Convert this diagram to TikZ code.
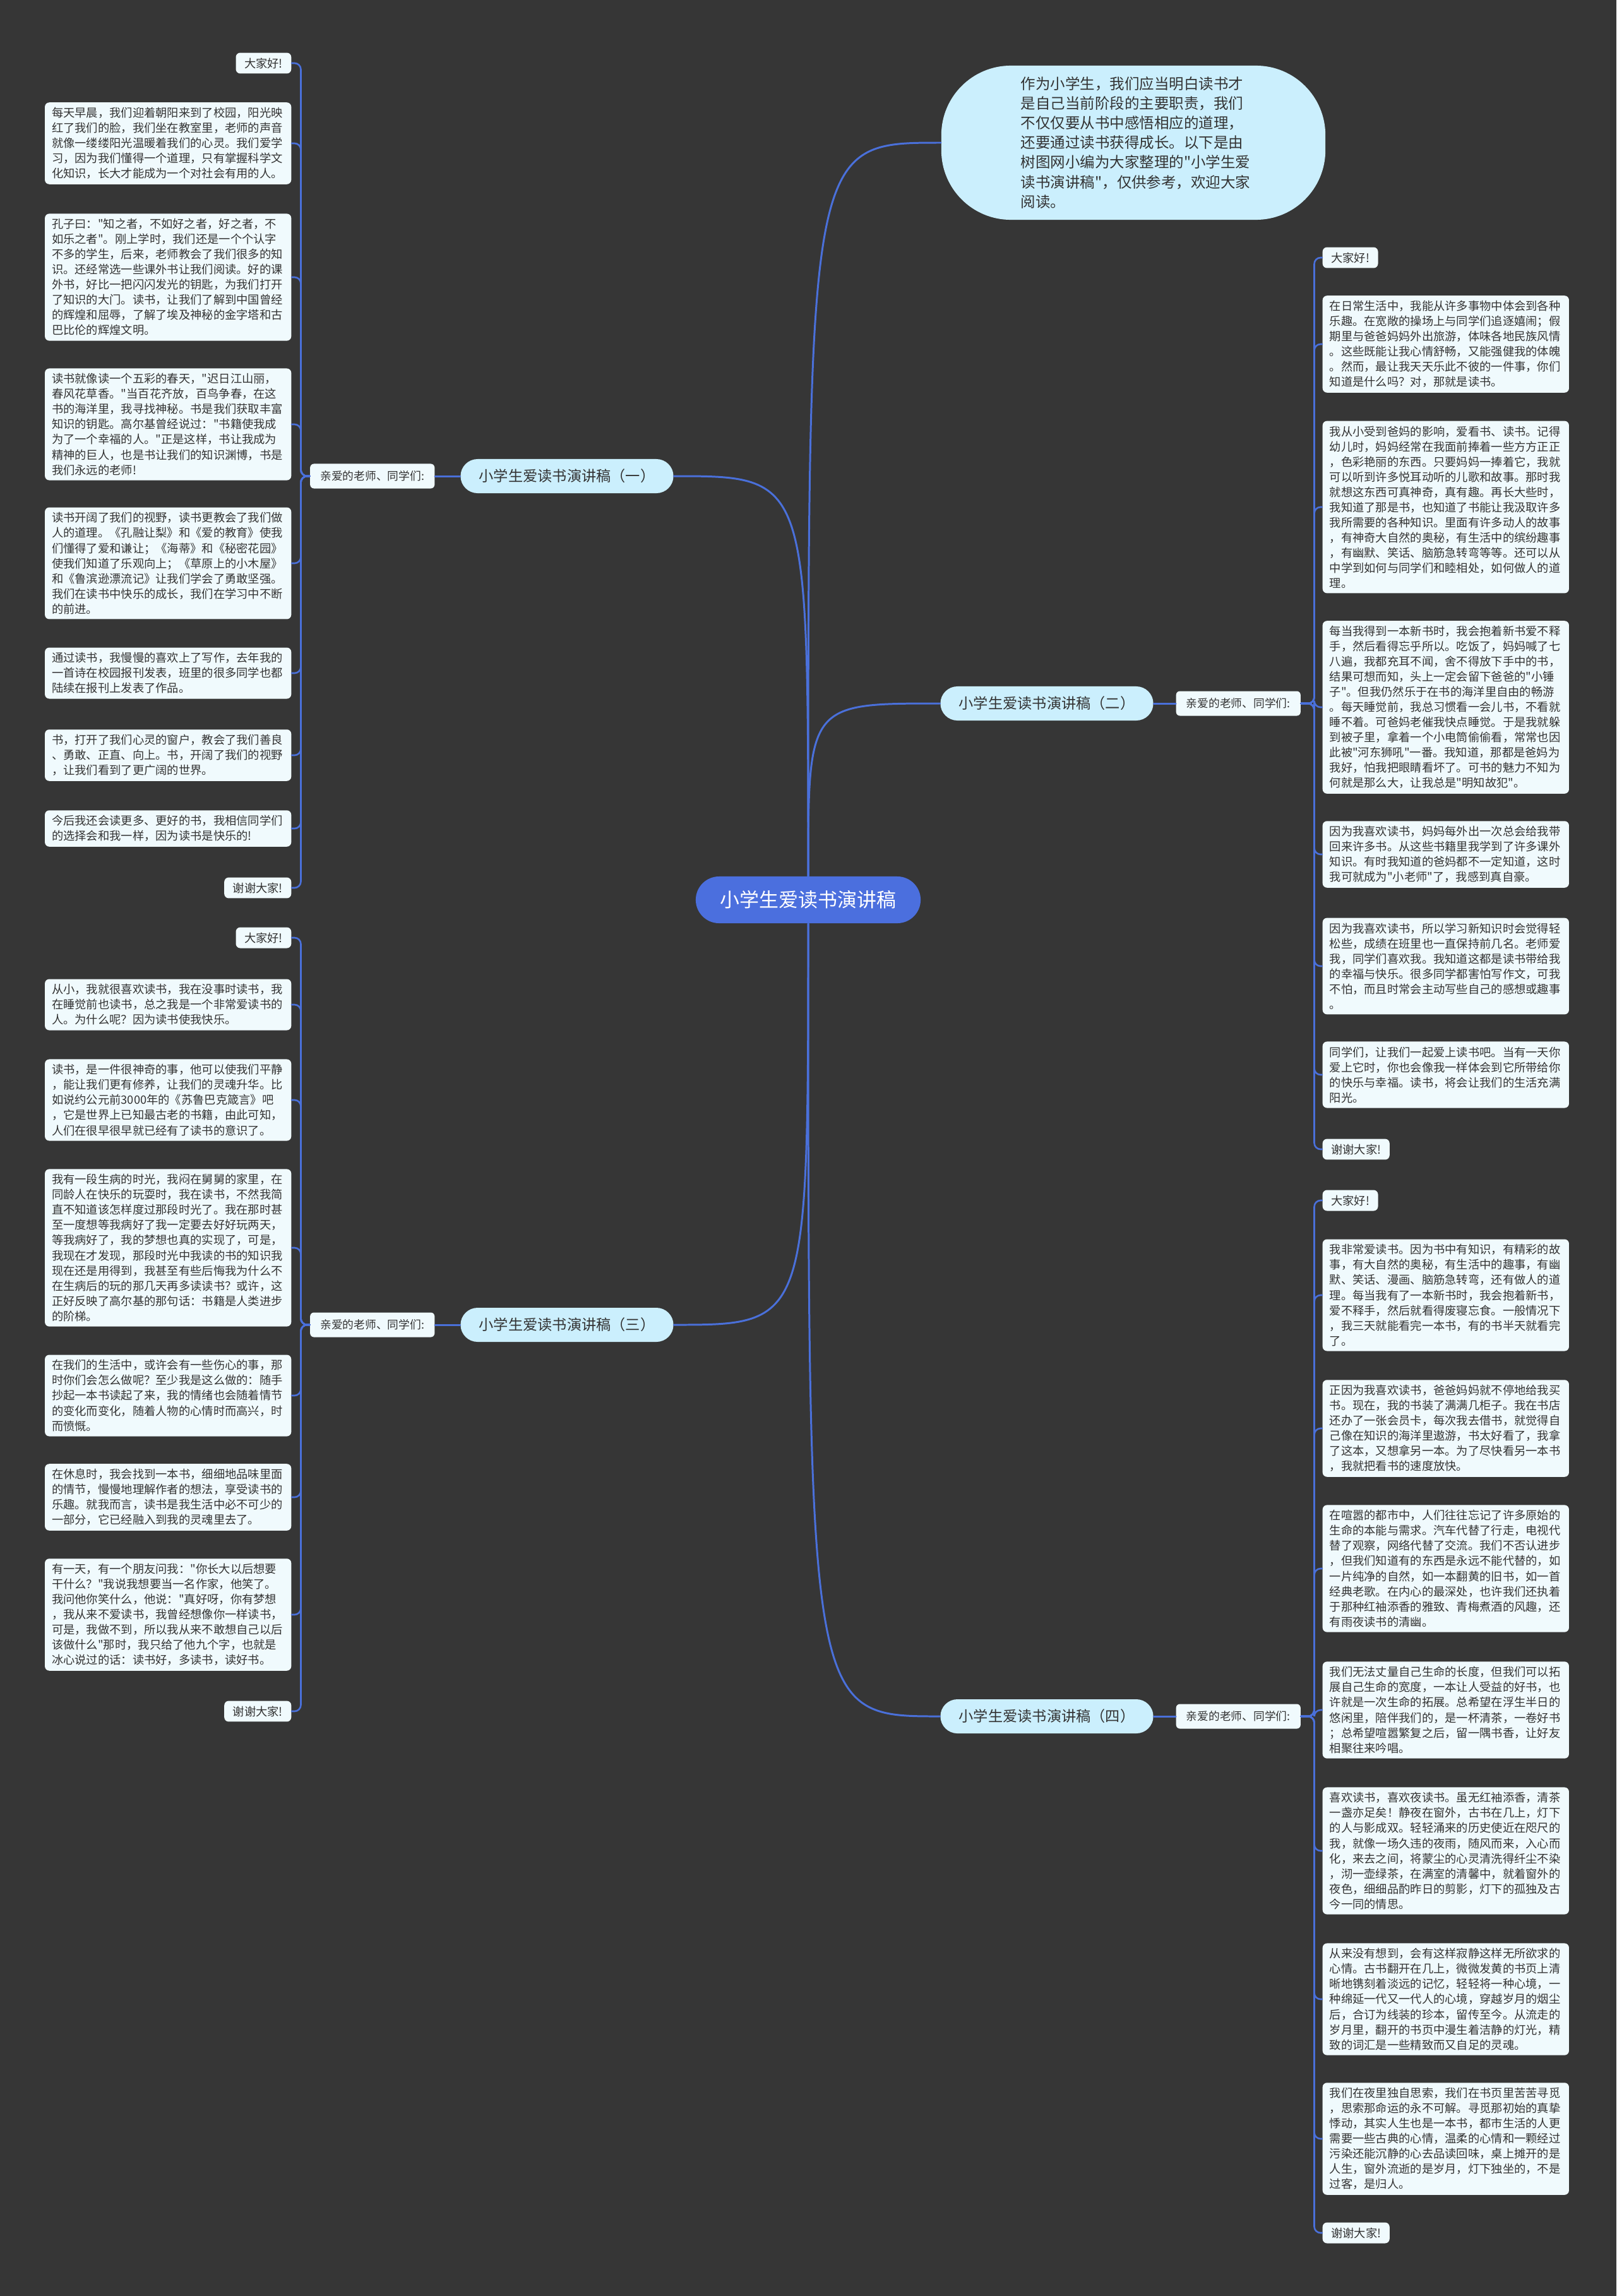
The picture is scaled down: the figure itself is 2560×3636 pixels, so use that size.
\documentclass[tikz,border=0pt]{standalone}
\usepackage{fontspec}
\setmainfont{Noto Sans CJK SC}
\newfontfamily\cjk{Noto Sans CJK SC}
\setlength{\parindent}{0pt}
\definecolor{bgc}{HTML}{363636}
\definecolor{linkc}{HTML}{4A70DA}
\definecolor{rootc}{HTML}{4B6FDE}
\definecolor{topicc}{HTML}{CBEFFD}
\definecolor{boxc}{HTML}{F0FAFD}
\definecolor{inkc}{HTML}{333333}
\tikzset{
  txtbox/.style={fill=boxc, text=inkc, rounded corners=0.07cm, inner xsep=0.11cm, inner ysep=0.08cm,
    font=\cjk\fontsize{5.2pt}{6.83pt}\selectfont},
  para/.style={txtbox, text width=3.68cm, align=left},
  hello/.style={txtbox, inner xsep=0.135cm},
  topic/.style={fill=topicc, text=inkc, rounded corners=0.27cm, minimum width=3.37cm, minimum height=0.54cm,
    font=\cjk\fontsize{6.6pt}{7.5pt}\selectfont},
  greet/.style={txtbox, rounded corners=0.06cm, minimum width=1.97cm, minimum height=0.39cm,
    font=\cjk\fontsize{5.05pt}{6pt}\selectfont},
  link/.style={draw=linkc, line width=0.85pt},
  sublink/.style={draw=linkc, line width=0.75pt, rounded corners=0.1cm},
}
\begin{document}
\begin{tikzpicture}[x=0.01cm,y=-0.01cm,line cap=round]
\def\lx{462}   % right edge of left column
\def\rx{2094}  % left edge of right column
% background
\fill[bgc] (0,0) rectangle (2560,3636);
\useasboundingbox (0,0) rectangle (2560,3636);
% root and intro
\node[fill=rootc, text=white, rounded corners=0.37cm, minimum width=3.56cm, minimum height=0.74cm,
  font=\cjk\fontsize{8.8pt}{10pt}\selectfont] (root) at (1280,1425) {小学生爱读书演讲稿};
\node[fill=topicc, text=inkc, rounded corners=1.1cm, minimum width=6.08cm, minimum height=2.44cm,
  text width=3.56cm, align=left, font=\cjk\fontsize{6.68pt}{8.82pt}\selectfont] (intro) at (1795,226)
  {作为小学生，我们应当明白读书才\\是自己当前阶段的主要职责，我们\\不仅仅要从书中感悟相应的道理，\\还要通过读书获得成长。以下是由\\树图网小编为大家整理的"小学生爱\\读书演讲稿"，仅供参考，欢迎大家\\阅读。};
% topics
\node[topic] (t1) at (898,754) {小学生爱读书演讲稿（一）};
\node[topic] (t2) at (1658,1114) {小学生爱读书演讲稿（二）};
\node[topic] (t3) at (898,2098) {小学生爱读书演讲稿（三）};
\node[topic] (t4) at (1658,2718) {小学生爱读书演讲稿（四）};
\node[greet, anchor=east] (g1) at (689,754) {亲爱的老师、同学们:};
\node[greet, anchor=west] (g2) at (1862,1114) {亲爱的老师、同学们:};
\node[greet, anchor=east] (g3) at (689,2098) {亲爱的老师、同学们:};
\node[greet, anchor=west] (g4) at (1862,2718) {亲爱的老师、同学们:};
% speech one
\node[hello, anchor=east] (a1) at (\lx,100) {大家好!};
\node[para, anchor=east] (a2) at (\lx,227) {每天早晨，我们迎着朝阳来到了校园，阳光映\\红了我们的脸，我们坐在教室里，老师的声音\\就像一缕缕阳光温暖着我们的心灵。我们爱学\\习，因为我们懂得一个道理，只有掌握科学文\\化知识，长大才能成为一个对社会有用的人。};
\node[para, anchor=east] (a3) at (\lx,439) {孔子曰："知之者，不如好之者，好之者，不\\如乐之者"。刚上学时，我们还是一个个认字\\不多的学生，后来，老师教会了我们很多的知\\识。还经常选一些课外书让我们阅读。好的课\\外书，好比一把闪闪发光的钥匙，为我们打开\\了知识的大门。读书，让我们了解到中国曾经\\的辉煌和屈辱，了解了埃及神秘的金字塔和古\\巴比伦的辉煌文明。};
\node[para, anchor=east] (a4) at (\lx,672) {读书就像读一个五彩的春天，"迟日江山丽，\\春风花草香。"当百花齐放，百鸟争春，在这\\书的海洋里，我寻找神秘。书是我们获取丰富\\知识的钥匙。高尔基曾经说过："书籍使我成\\为了一个幸福的人。"正是这样，书让我成为\\精神的巨人，也是书让我们的知识渊博，书是\\我们永远的老师!};
\node[para, anchor=east] (a5) at (\lx,892) {读书开阔了我们的视野，读书更教会了我们做\\人的道理。《孔融让梨》和《爱的教育》使我\\们懂得了爱和谦让；《海蒂》和《秘密花园》\\使我们知道了乐观向上；《草原上的小木屋》\\和《鲁滨逊漂流记》让我们学会了勇敢坚强。\\我们在读书中快乐的成长，我们在学习中不断\\的前进。};
\node[para, anchor=east] (a6) at (\lx,1066) {通过读书，我慢慢的喜欢上了写作，去年我的\\一首诗在校园报刊发表，班里的很多同学也都\\陆续在报刊上发表了作品。};
\node[para, anchor=east] (a7) at (\lx,1196) {书，打开了我们心灵的窗户，教会了我们善良\\、勇敢、正直、向上。书，开阔了我们的视野\\，让我们看到了更广阔的世界。};
\node[para, anchor=east] (a8) at (\lx,1312) {今后我还会读更多、更好的书，我相信同学们\\的选择会和我一样，因为读书是快乐的!};
\node[hello, anchor=east] (a9) at (\lx,1406) {谢谢大家!};
% speech two
\node[hello, anchor=west] (b1) at (\rx,408) {大家好!};
\node[para, anchor=west] (b2) at (\rx,545) {在日常生活中，我能从许多事物中体会到各种\\乐趣。在宽敞的操场上与同学们追逐嬉闹；假\\期里与爸爸妈妈外出旅游，体味各地民族风情\\。这些既能让我心情舒畅，又能强健我的体魄\\。然而，最让我天天乐此不彼的一件事，你们\\知道是什么吗？对，那就是读书。};
\node[para, anchor=west] (b3) at (\rx,803) {我从小受到爸妈的影响，爱看书、读书。记得\\幼儿时，妈妈经常在我面前捧着一些方方正正\\，色彩艳丽的东西。只要妈妈一捧着它，我就\\可以听到许多悦耳动听的儿歌和故事。那时我\\就想这东西可真神奇，真有趣。再长大些时，\\我知道了那是书，也知道了书能让我汲取许多\\我所需要的各种知识。里面有许多动人的故事\\，有神奇大自然的奥秘，有生活中的缤纷趣事\\，有幽默、笑话、脑筋急转弯等等。还可以从\\中学到如何与同学们和睦相处，如何做人的道\\理。};
\node[para, anchor=west] (b4) at (\rx,1120) {每当我得到一本新书时，我会抱着新书爱不释\\手，然后看得忘乎所以。吃饭了，妈妈喊了七\\八遍，我都充耳不闻，舍不得放下手中的书，\\结果可想而知，头上一定会留下爸爸的"小锤\\子"。但我仍然乐于在书的海洋里自由的畅游\\。每天睡觉前，我总习惯看一会儿书，不看就\\睡不着。可爸妈老催我快点睡觉。于是我就躲\\到被子里，拿着一个小电筒偷偷看，常常也因\\此被"河东狮吼"一番。我知道，那都是爸妈为\\我好，怕我把眼睛看坏了。可书的魅力不知为\\何就是那么大，让我总是"明知故犯"。};
\node[para, anchor=west] (b5) at (\rx,1353) {因为我喜欢读书，妈妈每外出一次总会给我带\\回来许多书。从这些书籍里我学到了许多课外\\知识。有时我知道的爸妈都不一定知道，这时\\我可就成为"小老师"了，我感到真自豪。};
\node[para, anchor=west] (b6) at (\rx,1530) {因为我喜欢读书，所以学习新知识时会觉得轻\\松些，成绩在班里也一直保持前几名。老师爱\\我，同学们喜欢我。我知道这都是读书带给我\\的幸福与快乐。很多同学都害怕写作文，可我\\不怕，而且时常会主动写些自己的感想或趣事\\。};
\node[para, anchor=west] (b7) at (\rx,1702) {同学们，让我们一起爱上读书吧。当有一天你\\爱上它时，你也会像我一样体会到它所带给你\\的快乐与幸福。读书，将会让我们的生活充满\\阳光。};
\node[hello, anchor=west] (b8) at (\rx,1820) {谢谢大家!};
% speech three
\node[hello, anchor=east] (c1) at (\lx,1485) {大家好!};
\node[para, anchor=east] (c2) at (\lx,1591) {从小，我就很喜欢读书，我在没事时读书，我\\在睡觉前也读书，总之我是一个非常爱读书的\\人。为什么呢？因为读书使我快乐。};
\node[para, anchor=east] (c3) at (\lx,1742) {读书，是一件很神奇的事，他可以使我们平静\\，能让我们更有修养，让我们的灵魂升华。比\\如说约公元前3000年的《苏鲁巴克箴言》吧\\，它是世界上已知最古老的书籍，由此可知，\\人们在很早很早就已经有了读书的意识了。};
\node[para, anchor=east] (c4) at (\lx,1976) {我有一段生病的时光，我闷在舅舅的家里，在\\同龄人在快乐的玩耍时，我在读书，不然我简\\直不知道该怎样度过那段时光了。我在那时甚\\至一度想等我病好了我一定要去好好玩两天，\\等我病好了，我的梦想也真的实现了，可是，\\我现在才发现，那段时光中我读的书的知识我\\现在还是用得到，我甚至有些后悔我为什么不\\在生病后的玩的那几天再多读读书？或许，这\\正好反映了高尔基的那句话：书籍是人类进步\\的阶梯。};
\node[para, anchor=east] (c5) at (\lx,2210) {在我们的生活中，或许会有一些伤心的事，那\\时你们会怎么做呢？至少我是这么做的：随手\\抄起一本书读起了来，我的情绪也会随着情节\\的变化而变化，随着人物的心情时而高兴，时\\而愤慨。};
\node[para, anchor=east] (c6) at (\lx,2371) {在休息时，我会找到一本书，细细地品味里面\\的情节，慢慢地理解作者的想法，享受读书的\\乐趣。就我而言，读书是我生活中必不可少的\\一部分，它已经融入到我的灵魂里去了。};
\node[para, anchor=east] (c7) at (\lx,2557) {有一天，有一个朋友问我："你长大以后想要\\干什么？"我说我想要当一名作家，他笑了。\\我问他你笑什么，他说："真好呀，你有梦想\\，我从来不爱读书，我曾经想像你一样读书，\\可是，我做不到，所以我从来不敢想自己以后\\该做什么"那时，我只给了他九个字，也就是\\冰心说过的话：读书好，多读书，读好书。};
\node[hello, anchor=east] (c8) at (\lx,2710) {谢谢大家!};
% speech four
\node[hello, anchor=west] (d1) at (\rx,1901) {大家好!};
\node[para, anchor=west] (d2) at (\rx,2051) {我非常爱读书。因为书中有知识，有精彩的故\\事，有大自然的奥秘，有生活中的趣事，有幽\\默、笑话、漫画、脑筋急转弯，还有做人的道\\理。每当我有了一本新书时，我会抱着新书，\\爱不释手，然后就看得废寝忘食。一般情况下\\，我三天就能看完一本书，有的书半天就看完\\了。};
\node[para, anchor=west] (d3) at (\rx,2262) {正因为我喜欢读书，爸爸妈妈就不停地给我买\\书。现在，我的书装了满满几柜子。我在书店\\还办了一张会员卡，每次我去借书，就觉得自\\己像在知识的海洋里遨游，书太好看了，我拿\\了这本，又想拿另一本。为了尽快看另一本书\\，我就把看书的速度放快。};
\node[para, anchor=west] (d4) at (\rx,2484) {在喧嚣的都市中，人们往往忘记了许多原始的\\生命的本能与需求。汽车代替了行走，电视代\\替了观察，网络代替了交流。我们不否认进步\\，但我们知道有的东西是永远不能代替的，如\\一片纯净的自然，如一本翻黄的旧书，如一首\\经典老歌。在内心的最深处，也许我们还执着\\于那种红袖添香的雅致、青梅煮酒的风趣，还\\有雨夜读书的清幽。};
\node[para, anchor=west] (d5) at (\rx,2708) {我们无法丈量自己生命的长度，但我们可以拓\\展自己生命的宽度，一本让人受益的好书，也\\许就是一次生命的拓展。总希望在浮生半日的\\悠闲里，陪伴我们的，是一杯清茶，一卷好书\\；总希望喧嚣繁复之后，留一隅书香，让好友\\相聚往来吟唱。};
\node[para, anchor=west] (d6) at (\rx,2931) {喜欢读书，喜欢夜读书。虽无红袖添香，清茶\\一盏亦足矣！静夜在窗外，古书在几上，灯下\\的人与影成双。轻轻涌来的历史使近在咫尺的\\我，就像一场久违的夜雨，随风而来，入心而\\化，来去之间，将蒙尘的心灵清洗得纤尘不染\\，沏一壶绿茶，在满室的清馨中，就着窗外的\\夜色，细细品酌昨日的剪影，灯下的孤独及古\\今一同的情思。};
\node[para, anchor=west] (d7) at (\rx,3166) {从来没有想到，会有这样寂静这样无所欲求的\\心情。古书翻开在几上，微微发黄的书页上清\\晰地镌刻着淡远的记忆，轻轻将一种心境，一\\种绵延一代又一代人的心境，穿越岁月的烟尘\\后，合订为线装的珍本，留传至今。从流走的\\岁月里，翻开的书页中漫生着洁静的灯光，精\\致的词汇是一些精致而又自足的灵魂。};
\node[para, anchor=west] (d8) at (\rx,3387) {我们在夜里独自思索，我们在书页里苦苦寻觅\\，思索那命运的永不可解。寻觅那初始的真挚\\悸动，其实人生也是一本书，都市生活的人更\\需要一些古典的心情，温柔的心情和一颗经过\\污染还能沉静的心去品读回味，桌上摊开的是\\人生，窗外流逝的是岁月，灯下独坐的，不是\\过客，是归人。};
\node[hello, anchor=west] (d9) at (\rx,3536) {谢谢大家!};
% main links
\draw[link] (root.north) .. controls (root.north |- intro.west) .. (intro.west);
\draw[link] (root.north) .. controls (root.north |- t1.east) .. (t1.east);
\draw[link] (root.north) .. controls (root.north |- t2.west) .. (t2.west);
\draw[link] (root.south) .. controls (root.south |- t3.east) .. (t3.east);
\draw[link] (root.south) .. controls (root.south |- t4.west) .. (t4.west);
\draw[link] (t1.west) -- (g1.east);
\draw[link] (t2.east) -- (g2.west);
\draw[link] (t3.west) -- (g3.east);
\draw[link] (t4.east) -- (g4.west);
% child links
\foreach \n in {a1,a2,a3,a4,a5,a6,a7,a8,a9}
  \draw[sublink] (g1.west) -- ++(-14,0) |- (\n.east);
\foreach \n in {b1,b2,b3,b4,b5,b6,b7,b8}
  \draw[sublink] (g2.east) -- ++(21,0) |- (\n.west);
\foreach \n in {c1,c2,c3,c4,c5,c6,c7,c8}
  \draw[sublink] (g3.west) -- ++(-14,0) |- (\n.east);
\foreach \n in {d1,d2,d3,d4,d5,d6,d7,d8,d9}
  \draw[sublink] (g4.east) -- ++(21,0) |- (\n.west);
\end{tikzpicture}
\end{document}
